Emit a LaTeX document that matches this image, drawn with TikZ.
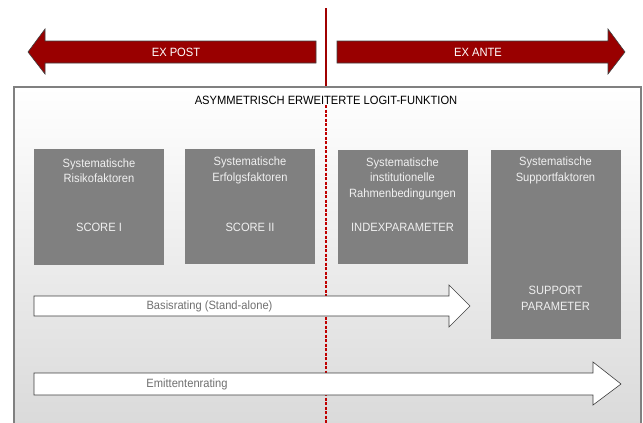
\documentclass[tikz,border=0pt]{standalone}
\usepackage{fontspec}
\setmainfont{Liberation Sans}[FakeStretch=0.93]
\usepackage{tikz}
\usetikzlibrary{calc,positioning}
\definecolor{ArrowRed}{HTML}{990000}
\definecolor{LineRed}{HTML}{A00000}
\definecolor{DashRed}{HTML}{C00000}
\definecolor{BoxGray}{HTML}{808080}
\definecolor{FrameGray}{HTML}{D8D8D8}
\definecolor{TextGray}{HTML}{707070}

\begin{document}
\begin{tikzpicture}[x=1pt,y=-1pt,
    redarrow/.style={fill=ArrowRed,draw=black!75,line width=0.6pt},
    whitearrow/.style={fill=white,draw=black!75,line width=0.6pt},
    arrowtext/.style={text=white,font=\fontsize{12}{14}\selectfont,inner sep=0pt},
    ratingtext/.style={text=TextGray,font=\fontsize{12}{14}\selectfont,inner sep=0pt},
    factorbox/.style={fill=BoxGray,minimum width=130pt,inner sep=0pt},
    boxtext/.style={text=white!94!black,align=center,inner sep=0pt,
      font=\fontsize{12}{15.5}\selectfont}
  ]
    \useasboundingbox (0,0) rectangle (643,423);
    \clip (0,0) rectangle (643,423);

    % frame of the logit function
    \node[
      draw=BoxGray,
      line width=1.2pt,
      top color=white,
      bottom color=FrameGray,
      minimum width=627pt,
      minimum height=356pt,
      inner sep=0pt
    ] (logit) at (327.5,265) {};
    \node[text=black,font=\fontsize{12}{14}\selectfont,inner sep=0pt]
      (title) at (326,100) {ASYMMETRISCH ERWEITERTE LOGIT-FUNKTION};

    % time axis
    \coordinate (axistop) at (326,8);
    \coordinate (dashtop) at (326,105);
    \coordinate (dashend) at (326,423);
    \draw[LineRed,line width=2pt] (axistop) -- (axistop |- logit.north);
    \draw[DashRed,line width=1.3pt,dash pattern=on 3pt off 1.5pt] (dashtop) -- (dashend);

    \draw[redarrow] (316,41) -- (45,41) -- (45,29) -- (28,52) -- (45,74) -- (45,63) -- (316,63) -- cycle;
    \node[arrowtext] (expost) at (176,52) {EX POST};
    \draw[redarrow] (337,41) -- (608,41) -- (608,29) -- (625,52) -- (608,74) -- (608,63) -- (337,63) -- cycle;
    \node[arrowtext] (exante) at (478,52) {EX ANTE};

    % factor boxes
    \node[factorbox,minimum height=116pt] (risk) at (99,207) {};
    \node[boxtext] (risktext) at (99,170.5) {Systematische\\Risikofaktoren};
    \node[boxtext] (score1) at (99,227) {SCORE I};

    \node[factorbox,minimum height=115pt] (success) at (250,206.5) {};
    \node[boxtext] (successtext) at (250,170.5) {Systematische\\Erfolgsfaktoren};
    \node[boxtext] (score2) at (250,227) {SCORE II};

    \node[factorbox,minimum height=114pt] (inst) at (402.5,207) {};
    \node[boxtext] (insttext) at (402.5,178.5) {Systematische\\institutionelle\\Rahmenbedingungen};
    \node[boxtext] (index) at (402.5,227) {INDEXPARAMETER};

    \node[factorbox,minimum height=189pt] (support) at (555.5,244.5) {};
    \node[boxtext] (supporttext) at (555.5,170.5) {Systematische\\Supportfaktoren};
    \node[boxtext] (supportpar) at (555.5,298.5) {SUPPORT\\PARAMETER};

    % ratings
    \draw[whitearrow] (34,296) -- (449,296) -- (449,285) -- (470,306) -- (449,327) -- (449,316) -- (34,316) -- cycle;
    \node[ratingtext] (basis) at (209.5,306) {Basisrating (Stand-alone)};
    \draw[whitearrow] (34,373) -- (593,373) -- (593,362) -- (621,384) -- (593,405) -- (593,395) -- (34,395) -- cycle;
    \node[ratingtext] (emitt) at (187,384) {Emittentenrating};
  \end{tikzpicture}
\end{document}
